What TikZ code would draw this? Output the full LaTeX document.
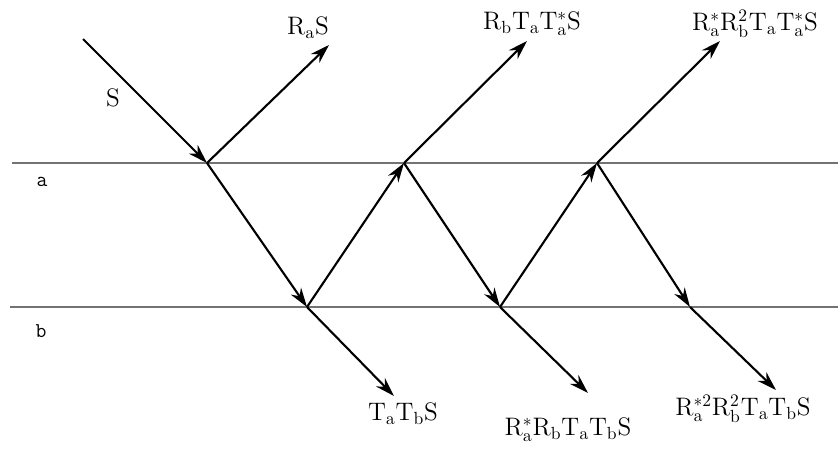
\documentclass[tikz,border=0pt]{standalone}
\usepackage{amsmath}
\usepackage{tikz}
\usetikzlibrary{positioning,arrows.meta}

\begin{document}
\begin{tikzpicture}[x=0.02cm, y=-0.02cm,
  every node/.style={font=\Large},
  ray/.style={-{Stealth[length=11pt,width=7pt]}, line width=1.2pt, black},
  surface/.style={line width=1pt, black!55}]
  \useasboundingbox (0,0) rectangle (838,453);

  % surfaces
  \coordinate (aL) at (12,163);
  \coordinate (aR) at (838,163);
  \coordinate (bL) at (10,307);
  \coordinate (bR) at (838,307);
  \draw[surface] (aL) -- (aR);
  \draw[surface] (bL) -- (bR);
  \node[font=\large\ttfamily] (la) at (42,182) {a};
  \node[font=\large\ttfamily] (lb) at (41,331) {b};

  % hit points
  \coordinate (src) at (83,39);
  \coordinate (a1) at (207,163);
  \coordinate (b1) at (307,307);
  \coordinate (a2) at (404,163);
  \coordinate (b2) at (500,307);
  \coordinate (a3) at (597,163);
  \coordinate (b3) at (690,307);

  % outgoing ends
  \coordinate (r1) at (329,45);
  \coordinate (r2) at (527,41);
  \coordinate (r3) at (720,41);
  \coordinate (t1) at (394,396);
  \coordinate (t2) at (588,393);
  \coordinate (t3) at (776,390);

  \draw[ray] (src) -- (a1);
  \draw[ray] (a1) -- (r1);
  \draw[ray] (a1) -- (b1);
  \draw[ray] (b1) -- (t1);
  \draw[ray] (b1) -- (a2);
  \draw[ray] (a2) -- (r2);
  \draw[ray] (a2) -- (b2);
  \draw[ray] (b2) -- (t2);
  \draw[ray] (b2) -- (a3);
  \draw[ray] (a3) -- (r3);
  \draw[ray] (a3) -- (b3);
  \draw[ray] (b3) -- (t3);

  % labels
  \node (ls) at (113,98) {$\mathrm{S}$};
  \node (lr1) at (308,28) {$\mathrm{R_aS}$};
  \node (lr2) at (532,24) {$\mathrm{R_bT_aT_a^{*}S}$};
  \node (lr3) at (755,24) {$\mathrm{R_a^{*}R_b^2T_aT_a^{*}S}$};
  \node (lt1) at (403,414) {$\mathrm{T_aT_bS}$};
  \node (lt2) at (568,430) {$\mathrm{R_a^{*}R_bT_aT_bS}$};
  \node (lt3) at (743,409) {$\mathrm{R_a^{*2}R_b^2T_aT_bS}$};
\end{tikzpicture}
\end{document}
